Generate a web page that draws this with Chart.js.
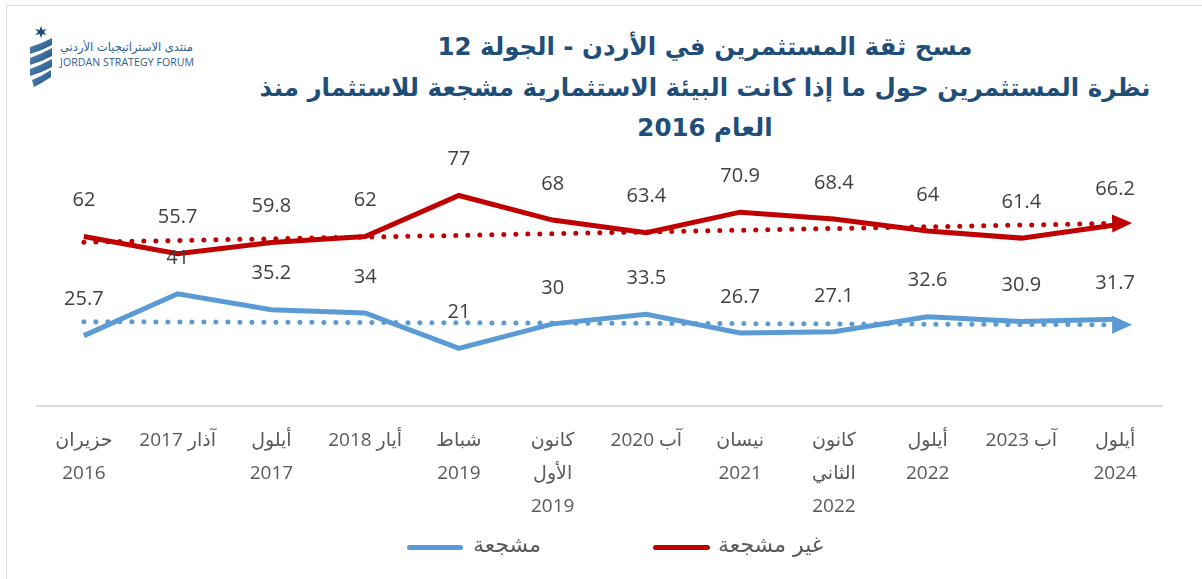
<!DOCTYPE html>
<html lang="ar">
<head>
<meta charset="utf-8">
<script src="https://cdn.jsdelivr.net/npm/chart.js@4.4.1/dist/chart.umd.min.js"></script>
<style>
  html, body { margin: 0; padding: 0; background: #fff; }
  body { width: 1202px; height: 579px; position: relative; overflow: hidden; font-family: "Open Sans", "DejaVu Sans", sans-serif; }
  #frame { position: absolute; left: 6px; top: 5px; width: 1210px; height: 600px; border: 1px solid #d9d9d9; box-sizing: border-box; }
  #chart { position: absolute; left: 0; top: 0; }
  #title { position: absolute; left: 205px; width: 1000px; top: 27px; text-align: center; direction: rtl;
           font-family: "DejaVu Sans", sans-serif; font-weight: bold; font-size: 24.5px; line-height: 40.5px; color: #1f4e79; }
  .logo-ar { position: absolute; left: 60px; top: 40px; font-family: "DejaVu Sans", sans-serif; font-size: 11.5px; color: #2e5d8c; direction: rtl; }
  .logo-en { position: absolute; left: 60px; top: 55px; font-family: "Open Sans", sans-serif; font-size: 10.5px; color: #2e5d8c; letter-spacing: 0.1px; }
  .leg-line { position: absolute; height: 5px; border-radius: 3px; }
  .leg-text { position: absolute; top: 532px; font-family: "DejaVu Sans", sans-serif; font-size: 22px; color: #595959; direction: rtl; }
</style>
</head>
<body>
<div id="frame"></div>
<svg width="60" height="95" style="position:absolute;left:0;top:0">
  <defs>
    <linearGradient id="g" x1="0" y1="0" x2="1" y2="1">
      <stop offset="0" stop-color="#5b8fc4"/>
      <stop offset="1" stop-color="#1f4e79"/>
    </linearGradient>
  </defs>
  <polygon points="41,26 42.5,30 46.5,29 44,32 46.5,35 42.5,34 41,38 39.5,34 35.5,35 38,32 35.5,29 39.5,30" fill="#1f4e79"/>
  <path d="M30,47 Q40,44 52,38 L52,45 Q41,51 30,54 Z" fill="url(#g)"/>
  <path d="M30,58 Q41,54 52,48 L52,56 Q41,62 30,65 Z" fill="url(#g)"/>
  <path d="M30,69 Q41,65 52,59 L52,67 Q41,73 30,76 Z" fill="url(#g)"/>
  <path d="M32,80 Q42,76 51,70 L51,77 Q42,83 34,87 Z" fill="url(#g)"/>
</svg>
<div class="logo-ar">منتدى الاستراتيجيات الأردني</div>
<div class="logo-en">JORDAN STRATEGY FORUM</div>
<div id="title">مسح ثقة المستثمرين في الأردن - الجولة 12<br>نظرة المستثمرين حول ما إذا كانت البيئة الاستثمارية مشجعة للاستثمار منذ<br>العام 2016</div>
<canvas id="chart" width="1202" height="579"></canvas>
<div class="leg-line" style="left:407px;top:545px;width:56px;background:#5b9bd5"></div>
<div class="leg-text" style="left:473px">مشجعة</div>
<div class="leg-line" style="left:653px;top:545px;width:57px;background:#c00000"></div>
<div class="leg-text" style="left:718px">غير مشجعة</div>
<script>
// survey rounds
const rounds = [
  ["حزيران", "2016"],
  "آذار 2017",
  ["أيلول", "2017"],
  "أيار 2018",
  ["شباط", "2019"],
  ["كانون", "الأول", "2019"],
  "آب 2020",
  ["نيسان", "2021"],
  ["كانون", "الثاني", "2022"],
  ["أيلول", "2022"],
  "آب 2023",
  ["أيلول", "2024"]
];

const encouraging = [25.7, 41, 35.2, 34, 21, 30, 33.5, 26.7, 27.1, 32.6, 30.9, 31.7];
const notEncouraging = [62, 55.7, 59.8, 62, 77, 68, 63.4, 70.9, 68.4, 64, 61.4, 66.2];

// trend line ends (first / last round)
const encouragingTrend = [30.8, 29.7];
const notEncouragingTrend = [59.9, 66.8];

const BLUE = "#5b9bd5";
const RED = "#c00000";

function trendSeries(ends) {
  const arr = rounds.map(() => null);
  arr[0] = ends[0];
  arr[arr.length - 1] = ends[1];
  return arr;
}

// value labels above each point
const valueLabels = {
  id: "valueLabels",
  afterDatasetsDraw(chart) {
    const ctx = chart.ctx;
    ctx.save();
    ctx.font = '20px "Open Sans", sans-serif';
    ctx.fillStyle = "#404040";
    ctx.textAlign = "center";
    ctx.textBaseline = "middle";
    chart.data.datasets.forEach((ds, i) => {
      if (!ds.showValues) return;
      chart.getDatasetMeta(i).data.forEach((pt, j) => {
        ctx.fillText(String(ds.data[j]), pt.x, pt.y - 36);
      });
    });
    ctx.restore();
  }
};

// arrow head at the end of the trend lines
const trendArrows = {
  id: "trendArrows",
  afterDatasetsDraw(chart) {
    const ctx = chart.ctx;
    chart.data.datasets.forEach((ds, i) => {
      if (!ds.isTrend) return;
      const pts = chart.getDatasetMeta(i).data;
      const a = pts[0], b = pts[pts.length - 1];
      const ang = Math.atan2(b.y - a.y, b.x - a.x);
      const bx = b.x - 3 * Math.cos(ang), by = b.y - 3 * Math.sin(ang);
      const tx = b.x + 17 * Math.cos(ang), ty = b.y + 17 * Math.sin(ang);
      const nx = -Math.sin(ang) * 9, ny = Math.cos(ang) * 9;
      ctx.save();
      ctx.fillStyle = ds.borderColor;
      ctx.beginPath();
      ctx.moveTo(tx, ty);
      ctx.lineTo(bx + nx, by + ny);
      ctx.lineTo(bx - nx, by - ny);
      ctx.closePath();
      ctx.fill();
      ctx.restore();
    });
  }
};

new Chart(document.getElementById("chart"), {
  type: "line",
  data: {
    labels: rounds,
    datasets: [
      {
        label: "مشجعة",
        data: encouraging,
        borderColor: BLUE,
        backgroundColor: BLUE,
        borderWidth: 5,
        pointRadius: 0,
        tension: 0,
        showValues: true,
        order: 2
      },
      {
        label: "غير مشجعة",
        data: notEncouraging,
        borderColor: RED,
        backgroundColor: RED,
        borderWidth: 5,
        pointRadius: 0,
        tension: 0,
        showValues: true,
        order: 2
      },
      {
        label: "trend1",
        data: trendSeries(encouragingTrend),
        borderColor: BLUE,
        borderWidth: 5,
        borderDash: [0, 12],
        borderCapStyle: "round",
        pointRadius: 0,
        spanGaps: true,
        isTrend: true,
        order: 1
      },
      {
        label: "trend2",
        data: trendSeries(notEncouragingTrend),
        borderColor: RED,
        borderWidth: 5,
        borderDash: [0, 12],
        borderCapStyle: "round",
        pointRadius: 0,
        spanGaps: true,
        isTrend: true,
        order: 1
      }
    ]
  },
  options: {
    responsive: false,
    animation: false,
    layout: { padding: { top: 160, left: 37, right: 40, bottom: 38 } },
    plugins: {
      legend: { display: false },
      title: { display: false },
      tooltip: { enabled: false }
    },
    scales: {
      x: {
        offset: true,
        grid: { display: false, drawTicks: false },
        border: { display: true, color: "#d9d9d9", width: 2 },
        ticks: {
          padding: 18,
          autoSkip: false,
          maxRotation: 0,
          color: "#595959",
          font: { family: '"Open Sans", "DejaVu Sans", sans-serif', size: 19, lineHeight: 1.74 }
        }
      },
      y: {
        display: false,
        min: 0,
        max: 90
      }
    }
  },
  plugins: [valueLabels, trendArrows]
});
</script>
</body>
</html>
